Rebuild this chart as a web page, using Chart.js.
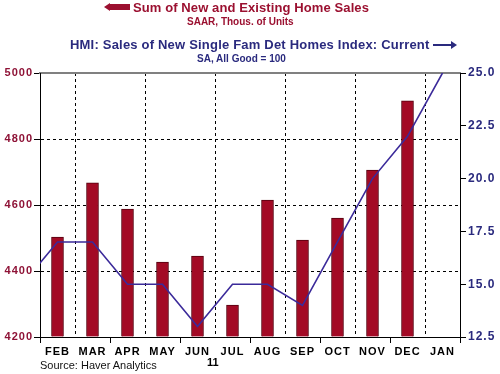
<!DOCTYPE html>
<html>
<head>
<meta charset="utf-8">
<script src="https://cdn.jsdelivr.net/npm/chart.js@4"></script>
<style>
  html, body { margin: 0; padding: 0; background: #ffffff; }
  #wrap { position: relative; width: 500px; height: 374px; font-family: "Liberation Sans", Arial, sans-serif; }
  canvas { position: absolute; left: 0; top: 0; }
  .t { position: absolute; white-space: nowrap; font-weight: bold; }
  .red { color: #9b1030; }
  .navy { color: #2a2a7e; }
</style>
</head>
<body>
<div id="wrap">
  <canvas id="c" width="500" height="374"></canvas>
  <div class="t red" style="left:104px;top:0px;font-size:13px;letter-spacing:0.1px;">
    <span style="display:inline-block;vertical-align:middle;width:0;height:0;border-top:4px solid transparent;border-bottom:4px solid transparent;border-right:6px solid #9b1030;margin-top:-3px;"></span><span style="display:inline-block;vertical-align:middle;width:20px;height:6px;background:#9b1030;margin-right:3px;margin-top:-3px;"></span>Sum of New and Existing Home Sales</div>
  <div class="t red" style="left:187px;top:16px;font-size:10px;">SAAR, Thous. of Units</div>
  <div class="t navy" style="left:70px;top:37px;font-size:13px;letter-spacing:0.2px;">HMI: Sales of New Single Fam Det Homes Index: Current<span style="display:inline-block;vertical-align:middle;width:18px;height:2px;background:#2a2a7e;margin-left:3px;margin-top:-2px;"></span><span style="display:inline-block;vertical-align:middle;width:0;height:0;border-top:4px solid transparent;border-bottom:4px solid transparent;border-left:6px solid #2a2a7e;margin-top:-2px;"></span></div>
  <div class="t navy" style="left:197px;top:53px;font-size:10px;">SA, All Good = 100</div>
  <div class="t" style="left:207px;top:356px;font-size:11px;color:#000;">11</div>
  <div class="t" style="left:40px;top:359px;font-size:11px;font-weight:normal;color:#111;">Source: Haver Analytics</div>
</div>
<script>
// ---- data ----
const categories = ["FEB", "MAR", "APR", "MAY", "JUN", "JUL", "AUG", "SEP", "OCT", "NOV", "DEC", "JAN"];
const homeSales = [4503, 4667, 4588, 4427, 4445, 4297, 4615, 4494, 4560, 4706, 4916, null];
const hmiPrevMonth = 15;   // value of the month before FEB (only its segment edge is visible)
const hmi = [17, 17, 15, 15, 13, 15, 15, 14, 17, 20, 22, 25];
const leftTicks = [4200, 4400, 4600, 4800, 5000];
const rightTicks = [12.5, 15.0, 17.5, 20.0, 22.5, 25.0];

const barPoints = homeSales.map((v, i) => ({ x: i, y: v })).filter(p => p.y !== null);
const linePoints = [{ x: -1, y: hmiPrevMonth }].concat(hmi.map((v, i) => ({ x: i, y: v })));

const RED = '#8e1236';
const NAVY = '#2a2a7e';

// wider letter spacing for the month labels, like the reference
const spacing = {
  id: 'spacing',
  beforeDraw(chart) { chart.ctx.letterSpacing = '1px'; },
  afterDraw(chart) { chart.ctx.letterSpacing = '0px'; }
};

new Chart(document.getElementById('c'), {
  plugins: [spacing],
  data: {
    datasets: [
      {
        type: 'line',
        data: linePoints,
        xAxisID: 'x',
        yAxisID: 'y2',
        borderColor: '#3b2a9a',
        borderWidth: 1.6,
        pointRadius: 0,
        tension: 0,
        fill: false,
        order: 0
      },
      {
        type: 'bar',
        data: barPoints,
        xAxisID: 'x',
        yAxisID: 'y',
        base: 4200,
        backgroundColor: '#a30a25',
        borderColor: '#55000f',
        borderWidth: 1,
        borderSkipped: 'start',
        barThickness: 12,
        order: 1
      }
    ]
  },
  options: {
    responsive: false,
    animation: false,
    layout: { padding: { top: 73, left: 0, right: 0, bottom: 0 } },
    plugins: { legend: { display: false }, tooltip: { enabled: false }, title: { display: false } },
    scales: {
      x: {
        type: 'linear',
        position: 'bottom',
        min: -0.5,
        max: 11.5,
        offset: false,
        afterBuildTicks: s => { s.ticks = categories.map((c, i) => ({ value: i })); },
        afterFit: s => { s.height = 37; },
        ticks: {
          autoSkip: false,
          maxRotation: 0,
          padding: 2,
          color: '#000',
          font: { family: 'Liberation Sans', size: 11, weight: 'bold' },
          callback: v => categories[v]
        },
        grid: {
          offset: true,
          drawOnChartArea: true,
          lineWidth: 1,
          tickLength: 6,
          color: ctx => (ctx.index !== undefined && ctx.index % 2 === 1) ? '#000' : 'rgba(0,0,0,0)',
          tickColor: ctx => (ctx.index === undefined || ctx.index % 2 === 0) ? '#000' : 'rgba(0,0,0,0)'
        },
        border: { display: true, color: '#000', width: 1, dash: [3, 3] }
      },
      xTop: {
        type: 'linear',
        position: 'top',
        afterFit: s => { s.height = 0; },
        ticks: { display: false },
        grid: { display: false, drawTicks: false },
        border: { display: true, color: '#808080', width: 2 }
      },
      y: {
        type: 'linear',
        position: 'left',
        min: 4200,
        max: 5000,
        afterBuildTicks: s => { s.ticks = leftTicks.map(v => ({ value: v })); },
        afterFit: s => { s.width = 40; },
        ticks: {
          padding: 1,
          color: RED,
          font: { family: 'Liberation Sans', size: 11, weight: 'bold' },
          callback: v => String(v)
        },
        grid: {
          lineWidth: 1,
          tickLength: 6,
          tickColor: '#000',
          color: ctx => (ctx.tick && (ctx.tick.value === 4200 || ctx.tick.value === 5000)) ? 'rgba(0,0,0,0)' : '#000'
        },
        border: { display: true, color: '#000', width: 1, dash: [3, 3] }
      },
      y2: {
        type: 'linear',
        position: 'right',
        min: 12.5,
        max: 25,
        afterBuildTicks: s => { s.ticks = rightTicks.map(v => ({ value: v })); },
        afterFit: s => { s.width = 40; },
        ticks: {
          padding: 2,
          color: NAVY,
          font: { family: 'Liberation Sans', size: 12, weight: 'bold' },
          callback: v => Number(v).toFixed(1)
        },
        grid: { drawOnChartArea: false, tickLength: 6, tickColor: '#000', color: '#000' },
        border: { display: true, color: '#000', width: 1 }
      }
    }
  }
});
</script>
</body>
</html>
